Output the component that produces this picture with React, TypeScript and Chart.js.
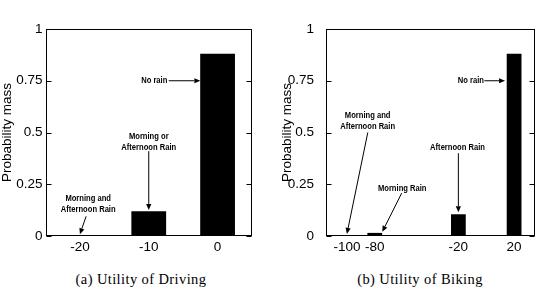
import React, { useEffect, useRef } from "react";
import { Chart, registerables } from "chart.js";

Chart.register(...registerables);

// ---- data ----
const yTickValues = [0, 0.25, 0.5, 0.75, 1];
const drivingUtilities = [-20, -10, 0];
const drivingProbabilities = [0.0, 0.12, 0.88];
const bikingUtilities = [-100, -80, -20, 20];
const bikingProbabilities = [0.0, 0.015, 0.105, 0.88];

type Note = {
  lines: string[];
  x: number;
  y: number;
  align: CanvasTextAlign;
  from: [number, number];
  to: [number, number];
};

// annotation callouts (in data units)
const drivingNotes: Note[] = [
  { lines: ["No rain"], x: -7.3, y: 0.75, align: "right", from: [-7.1, 0.75], to: [-2.5, 0.75] },
  { lines: ["Morning or", "Afternoon Rain"], x: -10, y: 0.48, align: "center", from: [-10, 0.41], to: [-10, 0.126] },
  { lines: ["Morning and", "Afternoon Rain"], x: -18.8, y: 0.182, align: "center", from: [-19.1, 0.095], to: [-20, 0.008] },
];
const bikingNotes: Note[] = [
  { lines: ["No rain"], x: -1.6, y: 0.75, align: "right", from: [-1.3, 0.75], to: [13.5, 0.75] },
  { lines: ["Morning and", "Afternoon Rain"], x: -85.1, y: 0.581, align: "center", from: [-85, 0.5], to: [-100, 0.01] },
  { lines: ["Morning Rain"], x: -60.3, y: 0.231, align: "center", from: [-60.7, 0.207], to: [-74.6, 0.02] },
  { lines: ["Afternoon Rain"], x: -20.6, y: 0.427, align: "center", from: [-20, 0.40], to: [-20, 0.115] },
];

const SANS = "'Liberation Sans', Arial, Helvetica, sans-serif";

function drawArrow(ctx: CanvasRenderingContext2D, x1: number, y1: number, x2: number, y2: number) {
  const ang = Math.atan2(y2 - y1, x2 - x1);
  const len = 6;
  const hw = 2.6;
  const bx = x2 - len * Math.cos(ang);
  const by = y2 - len * Math.sin(ang);
  ctx.beginPath();
  ctx.moveTo(x1, y1);
  ctx.lineTo(bx, by);
  ctx.stroke();
  ctx.beginPath();
  ctx.moveTo(x2, y2);
  ctx.lineTo(bx + hw * Math.sin(ang), by - hw * Math.cos(ang));
  ctx.lineTo(bx - hw * Math.sin(ang), by + hw * Math.cos(ang));
  ctx.closePath();
  ctx.fill();
}

function makeFramePlugin(notes: Note[]) {
  return {
    id: "matlabFrame",
    afterDatasetsDraw(chart: any) {
      const { ctx, chartArea: a, scales } = chart;
      const xs = scales.x;
      const ys = scales.y;
      ctx.save();
      ctx.strokeStyle = "#000";
      ctx.fillStyle = "#000";
      ctx.lineWidth = 1;
      const l = Math.round(a.left) + 0.5;
      const t = Math.round(a.top) + 0.5;
      const r = Math.round(a.right) - 0.5;
      const b = Math.round(a.bottom) - 0.5;
      ctx.strokeRect(l, t, r - l, b - t);
      for (const v of yTickValues) {
        const py = Math.round(ys.getPixelForValue(v)) + 0.5;
        ctx.beginPath();
        ctx.moveTo(l, py);
        ctx.lineTo(l + 5, py);
        ctx.moveTo(r, py);
        ctx.lineTo(r - 5, py);
        ctx.stroke();
      }
      ctx.font = `bold 9.5px ${SANS}`;
      ctx.textBaseline = "middle";
      for (const n of notes) {
        ctx.textAlign = n.align;
        const px = xs.getPixelForValue(n.x);
        const py = ys.getPixelForValue(n.y);
        n.lines.forEach((line, i) => {
          ctx.save();
          ctx.translate(px, py + i * 11);
          ctx.scale(0.8, 1);
          ctx.fillText(line, 0, 0);
          ctx.restore();
        });
        drawArrow(
          ctx,
          xs.getPixelForValue(n.from[0]),
          ys.getPixelForValue(n.from[1]),
          xs.getPixelForValue(n.to[0]),
          ys.getPixelForValue(n.to[1])
        );
      }
      ctx.restore();
    },
  };
}

type PanelProps = {
  xs: number[];
  ys: number[];
  notes: Note[];
  xMin: number;
  xMax: number;
  barPct: number;
  labelPad: number;
  padLeft: number;
  padRight: number;
  width: number;
  left: number;
};

function Panel(p: PanelProps) {
  const ref = useRef<HTMLCanvasElement>(null);
  useEffect(() => {
    if (!ref.current) return;
    const chart = new Chart(ref.current, {
      type: "bar",
      data: {
        datasets: [
          {
            data: p.xs.map((x, i) => ({ x, y: p.ys[i] })),
            backgroundColor: "#000",
            borderColor: "#000",
            borderWidth: 0,
            barPercentage: p.barPct,
            categoryPercentage: 1,
          },
        ],
      },
      options: {
        responsive: false,
        animation: false,
        events: [],
        layout: { padding: { left: p.padLeft, right: p.padRight, top: 29, bottom: 0 } },
        plugins: { legend: { display: false }, tooltip: { enabled: false } },
        scales: {
          x: {
            type: "linear",
            min: p.xMin,
            max: p.xMax,
            offset: false,
            grid: { display: false, drawTicks: false, tickLength: 0 },
            border: { display: false },
            afterBuildTicks: (s: any) => {
              s.ticks = p.xs.map((v) => ({ value: v }));
            },
            afterFit: (s: any) => {
              s.height = 24;
            },
            ticks: {
              color: "#000",
              font: { family: SANS, size: 13.5 },
              padding: 3,
              maxRotation: 0,
              autoSkip: false,
              callback: (v: any) => String(v),
            },
          },
          y: {
            min: 0,
            max: 1,
            grid: { display: false, drawTicks: false, tickLength: 0 },
            border: { display: false },
            afterBuildTicks: (s: any) => {
              s.ticks = yTickValues.map((v) => ({ value: v }));
            },
            afterFit: (s: any) => {
              s.width = 45;
            },
            ticks: {
              color: "#000",
              font: { family: SANS, size: 13.5 },
              padding: p.labelPad,
              callback: (v: any) => String(v),
            },
            title: {
              display: true,
              text: "Probability mass",
              color: "#000",
              font: { family: SANS, size: 13.5, lineHeight: 1 },
              padding: 0,
            },
          },
        },
      },
      plugins: [makeFramePlugin(p.notes)],
    } as any);
    return () => chart.destroy();
  }, []);
  return (
    <canvas
      ref={ref}
      width={p.width}
      height={260}
      style={{ position: "absolute", left: p.left, top: 0, width: p.width, height: 260 }}
    />
  );
}

const captionStyle: React.CSSProperties = {
  position: "absolute",
  top: 271,
  height: 16,
  lineHeight: "16px",
  fontFamily: "'Liberation Serif', 'Times New Roman', serif",
  fontSize: 14.5,
  letterSpacing: "0.4px",
  color: "#000",
  textAlign: "center",
  whiteSpace: "nowrap",
};

export default function App() {
  return (
    <div style={{ position: "absolute", left: 0, top: 0, width: 539, height: 294, background: "#fff", overflow: "hidden" }}>
      <Panel
        xs={drivingUtilities}
        ys={drivingProbabilities}
        notes={drivingNotes}
        xMin={-25}
        xMax={5}
        barPct={0.505}
        labelPad={3}
        padLeft={0.5}
        padRight={18}
        width={270}
        left={0}
      />
      <Panel
        xs={bikingUtilities}
        ys={bikingProbabilities}
        notes={bikingNotes}
        xMin={-115}
        xMax={35}
        barPct={0.53}
        labelPad={12}
        padLeft={0}
        padRight={4}
        width={258}
        left={281}
      />
      <div style={{ ...captionStyle, left: 41, width: 200 }}>(a) Utility of Driving</div>
      <div style={{ ...captionStyle, left: 320, width: 200 }}>(b) Utility of Biking</div>
    </div>
  );
}
